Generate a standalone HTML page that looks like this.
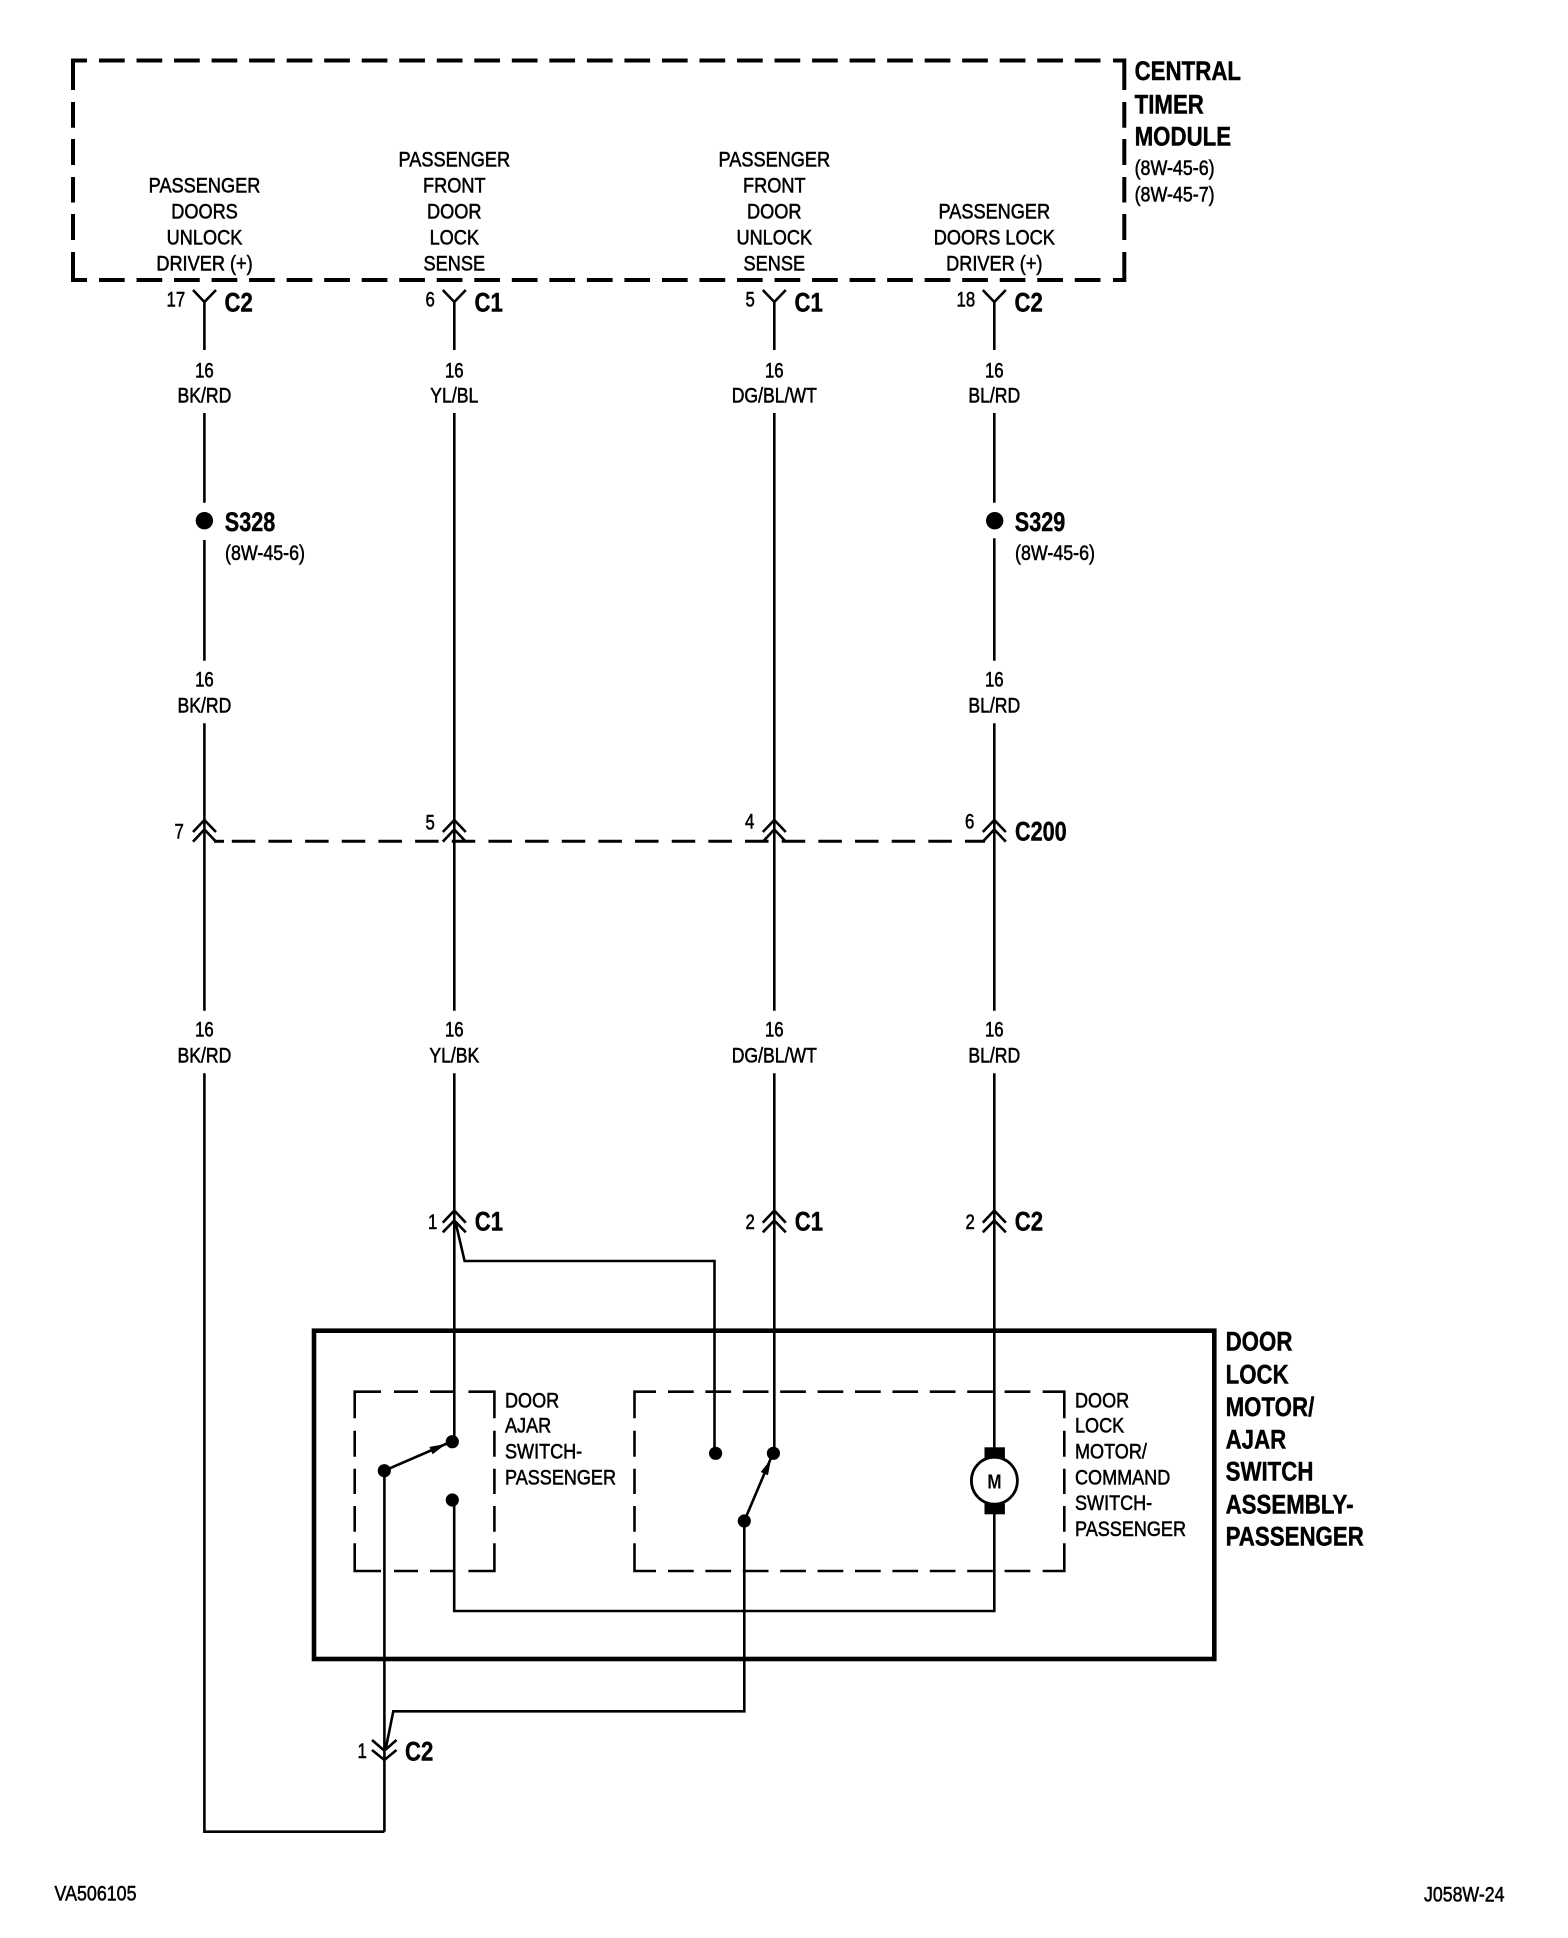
<!DOCTYPE html>
<html>
<head>
<meta charset="utf-8">
<style>
html,body{margin:0;padding:0;background:#fff;}
svg{display:block;}
text{font-family:"Liberation Sans",Arial,sans-serif;fill:#000;}
.t{font-size:21.5px;stroke:#000;stroke-width:.55px;}
.c{text-anchor:middle;}
.b{font-size:27px;font-weight:bold;stroke:#000;stroke-width:.45px;}
.w{fill:none;stroke:#000;stroke-width:2.6;}
.k{fill:none;stroke:#000;stroke-width:4;}
.d{fill:none;stroke:#000;stroke-width:2.6;}
.ch{fill:none;stroke:#000;stroke-width:2.6;}
</style>
</head>
<body>
<svg xmlns="http://www.w3.org/2000/svg" width="1568" height="1938" viewBox="0 0 1568 1938">
<rect width="1568" height="1938" fill="#fff"/>

<!-- Central timer module dashed box -->
<path class="k" d="M87 60.5H73V90M73 252V280H87M1113 60.5H1124.3V90M1124.3 252V280H1113"/>
<path class="k" stroke-dasharray="25.7 11.83" d="M99 60.5H1105M99 280H1105"/>
<path class="k" d="M73 102V127.7M73 139V165M73 177V202.5M73 214V240M1124.3 102V127.7M1124.3 139V165M1124.3 177V202.5M1124.3 214V240"/>

<!-- Module labels -->
<g class="t c">
<text transform="translate(204.5 192.7) scale(.845 1)">PASSENGER</text>
<text transform="translate(204.5 218.7) scale(.845 1)">DOORS</text>
<text transform="translate(204.5 244.3) scale(.845 1)">UNLOCK</text>
<text transform="translate(204.5 270.7) scale(.845 1)">DRIVER (+)</text>
<text transform="translate(454.3 166.7) scale(.845 1)">PASSENGER</text>
<text transform="translate(454.3 192.7) scale(.845 1)">FRONT</text>
<text transform="translate(454.3 218.7) scale(.845 1)">DOOR</text>
<text transform="translate(454.3 244.3) scale(.845 1)">LOCK</text>
<text transform="translate(454.3 270.7) scale(.845 1)">SENSE</text>
<text transform="translate(774.3 166.7) scale(.845 1)">PASSENGER</text>
<text transform="translate(774.3 192.7) scale(.845 1)">FRONT</text>
<text transform="translate(774.3 218.7) scale(.845 1)">DOOR</text>
<text transform="translate(774.3 244.3) scale(.845 1)">UNLOCK</text>
<text transform="translate(774.3 270.7) scale(.845 1)">SENSE</text>
<text transform="translate(994.3 218.7) scale(.845 1)">PASSENGER</text>
<text transform="translate(994.3 244.3) scale(.845 1)">DOORS LOCK</text>
<text transform="translate(994.3 270.7) scale(.845 1)">DRIVER (+)</text>
</g>
<g class="b">
<text transform="translate(1134.6 80) scale(.825 1)">CENTRAL</text>
<text transform="translate(1134.6 113.3) scale(.825 1)">TIMER</text>
<text transform="translate(1134.6 145.3) scale(.825 1)">MODULE</text>
</g>
<g class="t">
<text transform="translate(1134.6 175) scale(.83 1)">(8W-45-6)</text>
<text transform="translate(1134.6 201.7) scale(.83 1)">(8W-45-7)</text>
</g>

<!-- Y connectors at top -->
<path class="ch" d="M193 290L204.4 302L216 290M442.8 290L454.3 302L465.8 290M762.8 290L774.3 302L785.8 290M982.8 290L994.3 302L1005.8 290"/>

<!-- Top pin numbers and connector names -->
<g class="t">
<text transform="translate(166.5 306.7) scale(.78 1)">17</text>
<text transform="translate(425.5 306.7) scale(.78 1)">6</text>
<text transform="translate(745.5 306.7) scale(.78 1)">5</text>
<text transform="translate(956.5 306.7) scale(.78 1)">18</text>
</g>
<g class="b">
<text transform="translate(224.5 311.7) scale(.82 1)">C2</text>
<text transform="translate(474.5 311.7) scale(.82 1)">C1</text>
<text transform="translate(794.5 311.7) scale(.82 1)">C1</text>
<text transform="translate(1014.5 311.7) scale(.82 1)">C2</text>
</g>

<!-- Wires -->
<path class="w" d="M204.4 301V350M204.4 413V502.7M204.4 540V660.7M204.4 723.3V1010.7M204.4 1073.3V1831.7H384.4M384.4 1470.7V1831.7"/>
<path class="w" d="M454.3 301V350M454.3 413V1010.7M454.3 1073.3V1441.7"/>
<path class="w" d="M774.3 301V350M774.3 413V1010.7M774.3 1073.3V1453"/>
<path class="w" d="M994.3 301V350M994.3 413V502.7M994.3 538.3V660.7M994.3 723.3V1010.7M994.3 1073.3V1447.5M994.3 1514V1611H454.2V1500"/>

<!-- Splices -->
<circle cx="204.4" cy="520.7" r="8.7"/>
<circle cx="994.7" cy="520.7" r="8.7"/>
<g class="b">
<text transform="translate(224.8 531) scale(.8 1)">S328</text>
<text transform="translate(1014.8 531) scale(.8 1)">S329</text>
</g>
<g class="t">
<text transform="translate(225 560) scale(.83 1)">(8W-45-6)</text>
<text transform="translate(1015 560) scale(.83 1)">(8W-45-6)</text>
</g>

<!-- Wire gauge/colour labels -->
<g class="t c">
<text transform="translate(204.4 377.3) scale(.78 1)">16</text>
<text transform="translate(204.4 402.7) scale(.82 1)">BK/RD</text>
<text transform="translate(454.3 377.3) scale(.78 1)">16</text>
<text transform="translate(454.3 402.7) scale(.82 1)">YL/BL</text>
<text transform="translate(774.3 377.3) scale(.78 1)">16</text>
<text transform="translate(774.3 402.7) scale(.82 1)">DG/BL/WT</text>
<text transform="translate(994.3 377.3) scale(.78 1)">16</text>
<text transform="translate(994.3 402.7) scale(.82 1)">BL/RD</text>

<text transform="translate(204.4 686.7) scale(.78 1)">16</text>
<text transform="translate(204.4 712.3) scale(.82 1)">BK/RD</text>
<text transform="translate(994.3 686.7) scale(.78 1)">16</text>
<text transform="translate(994.3 712.3) scale(.82 1)">BL/RD</text>

<text transform="translate(204.4 1036.7) scale(.78 1)">16</text>
<text transform="translate(204.4 1062.3) scale(.82 1)">BK/RD</text>
<text transform="translate(454.3 1036.7) scale(.78 1)">16</text>
<text transform="translate(454.3 1062.3) scale(.82 1)">YL/BK</text>
<text transform="translate(774.3 1036.7) scale(.78 1)">16</text>
<text transform="translate(774.3 1062.3) scale(.82 1)">DG/BL/WT</text>
<text transform="translate(994.3 1036.7) scale(.78 1)">16</text>
<text transform="translate(994.3 1062.3) scale(.82 1)">BL/RD</text>
</g>

<!-- C200 connector -->
<path class="ch" d="M193 832L204.4 820L216 832M193 841.7L204.4 829.5L216 841.7"/>
<path class="ch" d="M442.8 832L454.3 820L465.8 832M442.8 841.7L454.3 829.5L465.8 841.7"/>
<path class="ch" d="M762.8 832L774.3 820L785.8 832M762.8 841.7L774.3 829.5L785.8 841.7"/>
<path class="ch" d="M982.8 832L994.3 820L1005.8 832M982.8 841.7L994.3 829.5L1005.8 841.7"/>
<path fill="none" stroke="#000" stroke-width="3" d="M214 841.3H224"/>
<path fill="none" stroke="#000" stroke-width="3" stroke-dasharray="23.5 13.16" d="M231.8 841.3H985"/>
<g class="t">
<text transform="translate(174.5 838.3) scale(.78 1)">7</text>
<text transform="translate(425.5 829.3) scale(.78 1)">5</text>
<text transform="translate(745 828.3) scale(.78 1)">4</text>
<text transform="translate(965 828.3) scale(.78 1)">6</text>
</g>
<text class="b" transform="translate(1015 840.7) scale(.8 1)">C200</text>

<!-- Lower connectors -->
<path class="ch" d="M442.8 1222.7L454.3 1210.5L465.8 1222.7M442.8 1232.3L454.3 1220.5L465.8 1232.3"/>
<path class="ch" d="M762.8 1222.7L774.3 1210.5L785.8 1222.7M762.8 1232.3L774.3 1220.5L785.8 1232.3"/>
<path class="ch" d="M982.8 1222.7L994.3 1210.5L1005.8 1222.7M982.8 1232.3L994.3 1220.5L1005.8 1232.3"/>
<g class="t">
<text transform="translate(428 1229) scale(.78 1)">1</text>
<text transform="translate(745.5 1229) scale(.78 1)">2</text>
<text transform="translate(965.5 1229) scale(.78 1)">2</text>
</g>
<g class="b">
<text transform="translate(474.8 1230.7) scale(.82 1)">C1</text>
<text transform="translate(794.8 1230.7) scale(.82 1)">C1</text>
<text transform="translate(1014.8 1230.7) scale(.82 1)">C2</text>
</g>

<!-- Side branch up to connector C1 -->
<path class="w" d="M455.5 1222L464.6 1261H714.5V1453"/>

<!-- Assembly box -->
<rect x="314" y="1330.7" width="900.3" height="328.3" fill="none" stroke="#000" stroke-width="4.6"/>
<g class="b">
<text transform="translate(1225.6 1350.7) scale(.825 1)">DOOR</text>
<text transform="translate(1225.6 1383.3) scale(.825 1)">LOCK</text>
<text transform="translate(1225.6 1416) scale(.825 1)">MOTOR/</text>
<text transform="translate(1225.6 1448.3) scale(.825 1)">AJAR</text>
<text transform="translate(1225.6 1480.7) scale(.825 1)">SWITCH</text>
<text transform="translate(1225.6 1513.3) scale(.825 1)">ASSEMBLY-</text>
<text transform="translate(1225.6 1545.7) scale(.825 1)">PASSENGER</text>
</g>

<!-- Door ajar switch dashed box -->
<path class="d" d="M381 1391.7H354.7V1418.3M354.7 1430.7V1456.7M354.7 1468.7V1494M354.7 1506V1531.7M354.7 1543.3V1571H381M394 1571H418M430 1571H454.2M468.4 1571H494.4V1543.3M494.4 1531.7V1506M494.4 1494V1468.7M494.4 1456.7V1430.7M494.4 1418.3V1391.7H468.4M454.2 1391.7H430M418 1391.7H394"/>

<!-- Door lock motor dashed box -->
<path class="d" d="M656 1391.7H634.5V1418.3M634.5 1430.7V1456.7M634.5 1468.7V1494M634.5 1506V1531.7M634.5 1543.3V1571H656M1042.6 1571H1064.3V1543.3M1064.3 1531.7V1506M1064.3 1494V1468.7M1064.3 1456.7V1430.7M1064.3 1418.3V1391.7H1042.6"/>
<path class="d" stroke-dasharray="25.7 11.7" d="M668 1391.7H1032M668 1571H1032"/>

<g class="t">
<text transform="translate(505 1407.3) scale(.84 1)">DOOR</text>
<text transform="translate(505 1432.7) scale(.84 1)">AJAR</text>
<text transform="translate(505 1458.7) scale(.84 1)">SWITCH-</text>
<text transform="translate(505 1484.3) scale(.84 1)">PASSENGER</text>
<text transform="translate(1075 1407.3) scale(.84 1)">DOOR</text>
<text transform="translate(1075 1432.7) scale(.84 1)">LOCK</text>
<text transform="translate(1075 1458.7) scale(.84 1)">MOTOR/</text>
<text transform="translate(1075 1484.3) scale(.84 1)">COMMAND</text>
<text transform="translate(1075 1510) scale(.84 1)">SWITCH-</text>
<text transform="translate(1075 1536) scale(.84 1)">PASSENGER</text>
</g>

<!-- Switch 1 -->
<circle cx="452.3" cy="1441.7" r="6.6"/>
<circle cx="452.3" cy="1500" r="6.6"/>
<circle cx="384.3" cy="1470.7" r="6.6"/>
<path class="w" d="M384.3 1470.7L447 1443.5"/>
<polygon points="446,1444 432.6,1454.3 429.4,1446.9"/>

<!-- Switch 2 -->
<circle cx="715.6" cy="1453.3" r="6.6"/>
<circle cx="773.4" cy="1453.3" r="6.6"/>
<circle cx="744.3" cy="1521" r="6.6"/>
<path class="w" d="M744.3 1521L771 1458"/>
<polygon points="771,1459 768,1475.2 760.7,1472"/>
<path class="w" d="M744.3 1521V1711.3H393.3L385.5 1750"/>

<!-- Motor -->
<ellipse cx="994.4" cy="1480.7" rx="23" ry="23.5" fill="#fff" stroke="#000" stroke-width="2.8"/>
<rect x="984.5" y="1447.3" width="20.4" height="11" fill="#000"/>
<rect x="984.5" y="1503.3" width="20.4" height="11" fill="#000"/>
<text class="c" font-size="20" font-weight="bold" transform="translate(994.4 1488.3) scale(.85 1)">M</text>

<!-- Bottom connector -->
<path class="ch" d="M372 1740L384.4 1750.7L396.5 1740M372 1750L384.4 1760L396.5 1750"/>
<text class="t" transform="translate(357.5 1758) scale(.78 1)">1</text>
<text class="b" transform="translate(405 1760.7) scale(.82 1)">C2</text>

<!-- Footer -->
<text class="t" transform="translate(54.5 1900.7) scale(.83 1)">VA506105</text>
<text class="t" transform="translate(1424 1901.7) scale(.825 1)">J058W-24</text>
</svg>
</body>
</html>
